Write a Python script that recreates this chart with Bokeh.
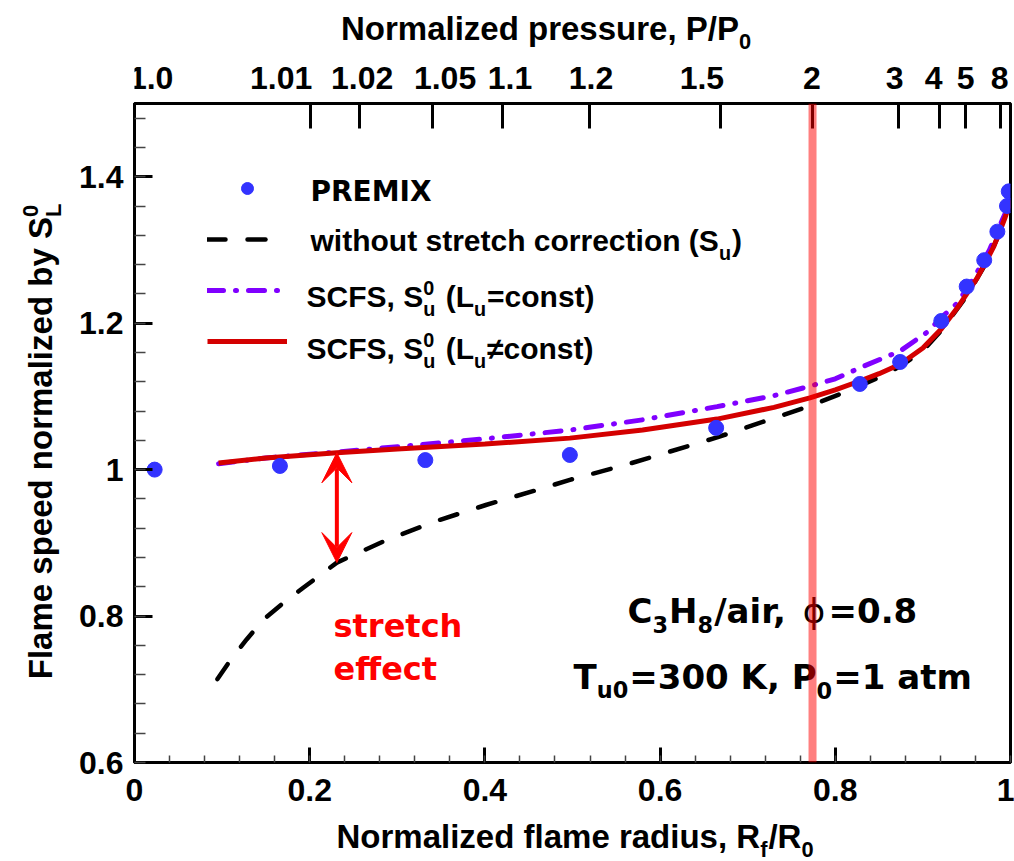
import math
import numpy as np
from bokeh.plotting import figure
from bokeh.layouts import row, column
from bokeh.models import (Range1d, LinearAxis, FixedTicker, SingleIntervalTicker, Label, Span,
                          Arrow, VeeHead, Legend, LegendItem)
from bokeh.core.validation import silence
from bokeh.core.validation.warnings import MISSING_RENDERERS
from bokeh.embed import file_html
from bokeh.resources import INLINE

silence(MISSING_RENDERERS, True)

# ---------------- data ----------------
premix_x = [0.023, 0.166, 0.332, 0.497, 0.664, 0.828, 0.874, 0.921, 0.950, 0.970, 0.985, 0.996, 0.998]
premix_y = [1.000, 1.005, 1.013, 1.020, 1.057, 1.117, 1.147, 1.203, 1.250, 1.286, 1.325, 1.360, 1.380]

red_x = [0.096, 0.15, 0.231, 0.30, 0.40, 0.497, 0.58, 0.665, 0.73, 0.771, 0.80, 0.828, 0.85, 0.874,
         0.90, 0.921, 0.94, 0.95, 0.962, 0.9725, 0.981, 0.988, 0.994, 0.999, 1.0]
red_y = [1.009, 1.016, 1.023, 1.028, 1.035, 1.043, 1.054, 1.069, 1.085, 1.098, 1.109, 1.121, 1.131, 1.144,
         1.166, 1.192, 1.222, 1.240, 1.262, 1.285, 1.305, 1.326, 1.345, 1.363, 1.368]

purple_x = [0.096, 0.15, 0.231, 0.326, 0.40, 0.497, 0.58, 0.665, 0.73, 0.771, 0.80, 0.828, 0.85, 0.874,
            0.904, 0.925, 0.938, 0.952, 0.965, 0.976, 0.984, 0.991, 0.997, 1.0]
purple_y = [1.008, 1.016, 1.024, 1.034, 1.042, 1.054, 1.068, 1.086, 1.101, 1.114, 1.124, 1.139, 1.150, 1.162,
            1.187, 1.212, 1.226, 1.250, 1.276, 1.300, 1.323, 1.342, 1.358, 1.368]

dash_x = [0.0947, 0.109, 0.128, 0.147, 0.17, 0.193, 0.231, 0.288, 0.345, 0.402, 0.459, 0.497, 0.562,
          0.665, 0.771, 0.82, 0.85, 0.874, 0.90, 0.921, 0.95, 0.9725, 0.988, 0.999]
dash_y = [0.714, 0.739, 0.768, 0.795, 0.818, 0.839, 0.873, 0.904, 0.930, 0.952, 0.972, 0.986, 1.007,
          1.044, 1.087, 1.110, 1.126, 1.141, 1.162, 1.190, 1.237, 1.283, 1.324, 1.362]

# top (pressure) axis: tick positions on the radius scale, their labels, and where each label sits
top_tick_pos = [0.0, 0.2008, 0.2569, 0.3397, 0.420, 0.5199, 0.6686, 0.774, 0.8716, 0.919, 0.949, 0.989]
top_tick_labels = ["1.0", "1.01", "1.02", "1.05", "1.1", "1.2", "1.5", "2", "3", "4", "5", "8"]
top_label_x = [0.019, 0.1674, 0.2598, 0.3545, 0.4286, 0.5211, 0.6477, 0.7732, 0.8678, 0.9124, 0.9489, 0.9877]

stretch_x = 0.231      # where the "stretch effect" arrow is drawn
marked_pressure = "2"  # pressure marked by the shaded band

# ---------------- layout geometry (canvas pixels) ----------------
W, H = 1014, 861
FL, FR, FT, FB = 134, 1010, 103, 762
LEFT_W = 70
TOP_H = 100
BOT_H = 42
FW = FR - FL

AXFONT = "Liberation Sans"
TICKSIZE = "32px"

p = figure(width=W - LEFT_W, height=H - TOP_H - BOT_H, x_range=Range1d(0, 1), y_range=Range1d(0.6, 1.5),
           output_backend="svg", toolbar_location=None,
           min_border_left=FL - LEFT_W, min_border_right=W - FR, min_border_top=FT - TOP_H,
           min_border_bottom=(H - BOT_H) - FB)
p.grid.visible = False
p.outline_line_color = "black"
p.outline_line_width = 3
p.background_fill_color = "white"
p.border_fill_color = "white"


def aux_fig(w, h, xr, yr, bl=0, br=0):
    f = figure(width=w, height=h, x_range=xr, y_range=yr, output_backend="svg", toolbar_location=None,
               x_axis_location=None, y_axis_location=None, min_border=0,
               min_border_left=bl, min_border_right=br, min_border_top=0, min_border_bottom=0)
    f.grid.visible = False
    f.outline_line_color = None
    f.background_fill_color = "white"
    f.border_fill_color = "white"
    return f


# strips around the plot; the top/bottom strips share the plot's horizontal frame
f_left = aux_fig(LEFT_W, H, Range1d(0, LEFT_W), Range1d(H, 0))
f_top = aux_fig(W - LEFT_W, TOP_H, Range1d(0, 1), Range1d(TOP_H, 0), FL - LEFT_W, W - FR)
f_bot = aux_fig(W - LEFT_W, BOT_H, Range1d(0, 1), Range1d(H, H - BOT_H), FL - LEFT_W, W - FR)


def style_axis(ax, tick_in, minor_in, standoff):
    ax.axis_line_width = 3
    ax.axis_line_color = "black"
    ax.major_tick_in = tick_in
    ax.major_tick_out = 0
    ax.major_tick_line_width = 3
    ax.minor_tick_in = minor_in
    ax.minor_tick_out = 0
    ax.minor_tick_line_width = 1.5
    ax.minor_tick_line_color = "#444444"
    ax.major_label_text_font = AXFONT
    ax.major_label_text_font_style = "bold"
    ax.major_label_text_font_size = TICKSIZE
    ax.major_label_text_color = "black"
    ax.major_label_standoff = standoff


xa = p.xaxis[0]
xa.ticker = SingleIntervalTicker(interval=0.2, num_minor_ticks=5)
xa.major_label_overrides = {0: "0", 1: "1"}
style_axis(xa, 15, 7, 16)

ya = p.yaxis[0]
ya.ticker = SingleIntervalTicker(interval=0.2, num_minor_ticks=5)
ya.major_label_overrides = {1: "1"}
style_axis(ya, 18, 11, 11)

# top axis: ticks only here, its labels are placed in the strip above (they are not centred on the ticks)
top = LinearAxis(ticker=FixedTicker(ticks=top_tick_pos, minor_ticks=[]),
                 major_label_overrides={pos: "" for pos in top_tick_pos})
style_axis(top, 25, 0, 0)
top.major_label_text_font_size = "1px"
p.add_layout(top, "above")

for lx, lab in zip(top_label_x, top_tick_labels):
    f_top.add_layout(Label(x=lx, y=77, text=lab, text_font=AXFONT, text_font_size=TICKSIZE,
                           text_font_style="bold", text_color="black", text_align="center",
                           text_baseline="middle"))

# ---------------- data marks ----------------
r_purple = p.line(purple_x, purple_y, line_color="#8000ff", line_width=5, line_dash="16 12 1 12",
                  line_cap="round")
r_dash = p.line(dash_x, dash_y, line_color="black", line_width=4.5, line_dash="18 22", line_cap="round")
r_red = p.line(red_x, red_y, line_color="#d40000", line_width=5)
r_pts = p.scatter(premix_x, premix_y, size=15, fill_color="#3333ff", line_color="#3333ff")

# legend samples (texts are drawn separately to keep sub/superscripts)
legend = Legend(items=[LegendItem(label=" ", renderers=[r_pts]),
                       LegendItem(label=" ", renderers=[r_dash]),
                       LegendItem(label=" ", renderers=[r_purple]),
                       LegendItem(label=" ", renderers=[r_red])],
                location=(207 - FL, FB - (173 + 183)), orientation="vertical",
                glyph_width=80, glyph_height=30, label_text_font_size="8px",
                label_width=0, label_height=0, label_standoff=0, padding=0, margin=0, spacing=21,
                border_line_color=None, background_fill_alpha=0)
p.add_layout(legend)

# ---------------- rich text helper ----------------
AR = {' ': 278, '(': 333, ')': 333, ',': 278, '.': 278, '/': 278, '=': 584, '≠': 584,
      'A': 722, 'B': 722, 'C': 722, 'D': 722, 'E': 667, 'F': 611, 'G': 778, 'H': 722, 'I': 278, 'K': 722,
      'L': 611, 'M': 833, 'N': 722, 'O': 778, 'P': 667, 'R': 722, 'S': 667, 'T': 611, 'U': 722, 'X': 667,
      'a': 556, 'b': 611, 'c': 556, 'd': 611, 'e': 556, 'f': 333, 'g': 611, 'h': 611, 'i': 278, 'k': 556,
      'l': 278, 'm': 889, 'n': 611, 'o': 611, 'p': 611, 'r': 389, 's': 556, 't': 333, 'u': 611, 'v': 556,
      'w': 778, 'y': 556, 'z': 500}
for d in "0123456789":
    AR[d] = 556
DV = {' ': 348, '(': 457, ')': 457, ',': 380, '.': 380, '/': 365, '=': 838, '≠': 838,
      'A': 774, 'C': 734, 'E': 683, 'H': 838, 'I': 372, 'K': 775, 'L': 637, 'M': 995, 'P': 733, 'R': 770,
      'S': 720, 'T': 682, 'X': 774, 'a': 675, 'c': 593, 'e': 678, 'f': 435, 'h': 712, 'i': 343,
      'm': 1042, 'n': 712, 'o': 687, 'r': 493, 's': 595, 't': 478, 'u': 712, 'ϕ': 760}
for d in "0123456789":
    DV[d] = 696

# sizes and centre shifts (in em of the main text) of sub- and superscripts
SUBR, SUBSH, SUPSH = 0.66, -0.40, 0.30


def tw(s, table):
    return sum(table.get(c, 600) for c in s) / 1000.0


def place(fig, X, Y):
    """canvas pixel position -> label coordinates on the given figure"""
    if fig is p:
        return dict(x=X - FL, y=FB - Y, x_units="screen", y_units="screen")
    if fig is f_left:
        return dict(x=X, y=Y)
    return dict(x=(X - FL) / FW, y=Y)


def rich(fig, parts, X, Y, size, font, table, color="black", angle=0.0, anchor="left"):
    """X, Y: canvas position of the start (or centre) of the text line, Y at mid cap height"""
    items = []
    adv = 0.0

    def add(txt, rel, shift, style, at):
        lead = len(txt) - len(txt.lstrip(' '))
        items.append((at + tw(' ' * lead, table) * rel * size, txt.strip(' '), rel, shift, style))

    for part in parts:
        if part[0] == "stack":
            _, sup, sub = part
            add(sup, SUBR, SUPSH, "bold", adv)
            add(sub, SUBR, SUBSH, "bold", adv)
            adv += max(tw(sup, table), tw(sub, table)) * SUBR * size + 2
        else:
            txt, kind = part[0], part[1]
            style = part[2] if len(part) > 2 else "bold"
            if kind == "n":
                add(txt, 1.0, 0.0, style, adv)
                adv += tw(txt, table) * size
            else:
                add(txt, SUBR, SUBSH if kind == "sub" else SUPSH, style, adv)
                adv += tw(txt, table) * SUBR * size + 1
    start = -adv / 2 if anchor == "center" else 0.0
    dx, dy = math.cos(angle), -math.sin(angle)
    ux, uy = -math.sin(angle), -math.cos(angle)
    for off, txt, rs, sh, style in items:
        cx = X + dx * (off + start) + ux * sh * size
        cy = Y + dy * (off + start) + uy * sh * size
        fig.add_layout(Label(text=txt, angle=angle, text_font=font, text_font_size=f"{rs * size:.1f}px",
                             text_font_style=style, text_color=color, text_align="left",
                             text_baseline="middle", **place(fig, cx, cy)))


# axis titles
rich(f_top, [("Normalized pressure, P/P", "n"), ("0", "sub")], 546, 28, 33, AXFONT, AR, anchor="center")
rich(f_bot, [("Normalized flame radius, R", "n"), ("f", "sub"), ("/R", "n"), ("0", "sub")], 575, 836, 33,
     AXFONT, AR, anchor="center")
rich(f_left, [("Flame speed normalized by S", "n"), ("stack", "0", "L")], 40, 440, 33, AXFONT, AR,
     angle=math.pi / 2, anchor="center")

# legend texts
rich(p, [("PREMIX", "n")], 310, 191, 28, "DejaVu Sans", DV)
rich(p, [("without stretch correction (S", "n"), ("u", "sub"), (")", "n")], 310, 240, 30, AXFONT, AR)
rich(p, [("SCFS, S", "n"), ("stack", "0", "u"), (" (L", "n"), ("u", "sub"), ("=const)", "n")], 306, 296, 30,
     AXFONT, AR)
rich(p, [("SCFS, S", "n"), ("stack", "0", "u"), (" (L", "n"), ("u", "sub"), ("≠const)", "n")], 306, 348, 30,
     AXFONT, AR)

# annotations
rich(p, [("C", "n"), ("3", "sub"), ("H", "n"), ("8", "sub"), ("/air, ", "n"), ("ϕ", "n", "normal"),
         ("=0.8", "n")], 627, 610, 34, "DejaVu Sans", DV)
rich(p, [("T", "n"), ("u0", "sub"), ("=300 K, P", "n"), ("0", "sub"), ("=1 atm", "n")], 573, 676, 34,
     "DejaVu Sans", DV)
rich(p, [("stretch", "n")], 333, 625, 32, "DejaVu Sans", DV, color="#ff0000")
rich(p, [("effect", "n")], 333, 668, 32, "DejaVu Sans", DV, color="#ff0000")

# stretch-effect arrow between corrected and uncorrected curves
a_top = float(np.interp(stretch_x, red_x, red_y))
a_bot = float(np.interp(stretch_x, dash_x, dash_y))
p.add_layout(Arrow(start=VeeHead(size=30, fill_color="#ff0000", line_color="#ff0000", line_width=1),
                   end=VeeHead(size=30, fill_color="#ff0000", line_color="#ff0000", line_width=1),
                   x_start=stretch_x, y_start=a_bot, x_end=stretch_x, y_end=a_top,
                   line_color="#ff0000", line_width=4))

# shaded band at the marked pressure
band_x = top_tick_pos[top_tick_labels.index(marked_pressure)]
p.add_layout(Span(location=band_x, dimension="height", line_color="#ff0000", line_alpha=0.5, line_width=8))

layout = row(f_left, column(f_top, p, f_bot, spacing=0), spacing=0)
open("out.html", "w").write(file_html(layout, INLINE))
